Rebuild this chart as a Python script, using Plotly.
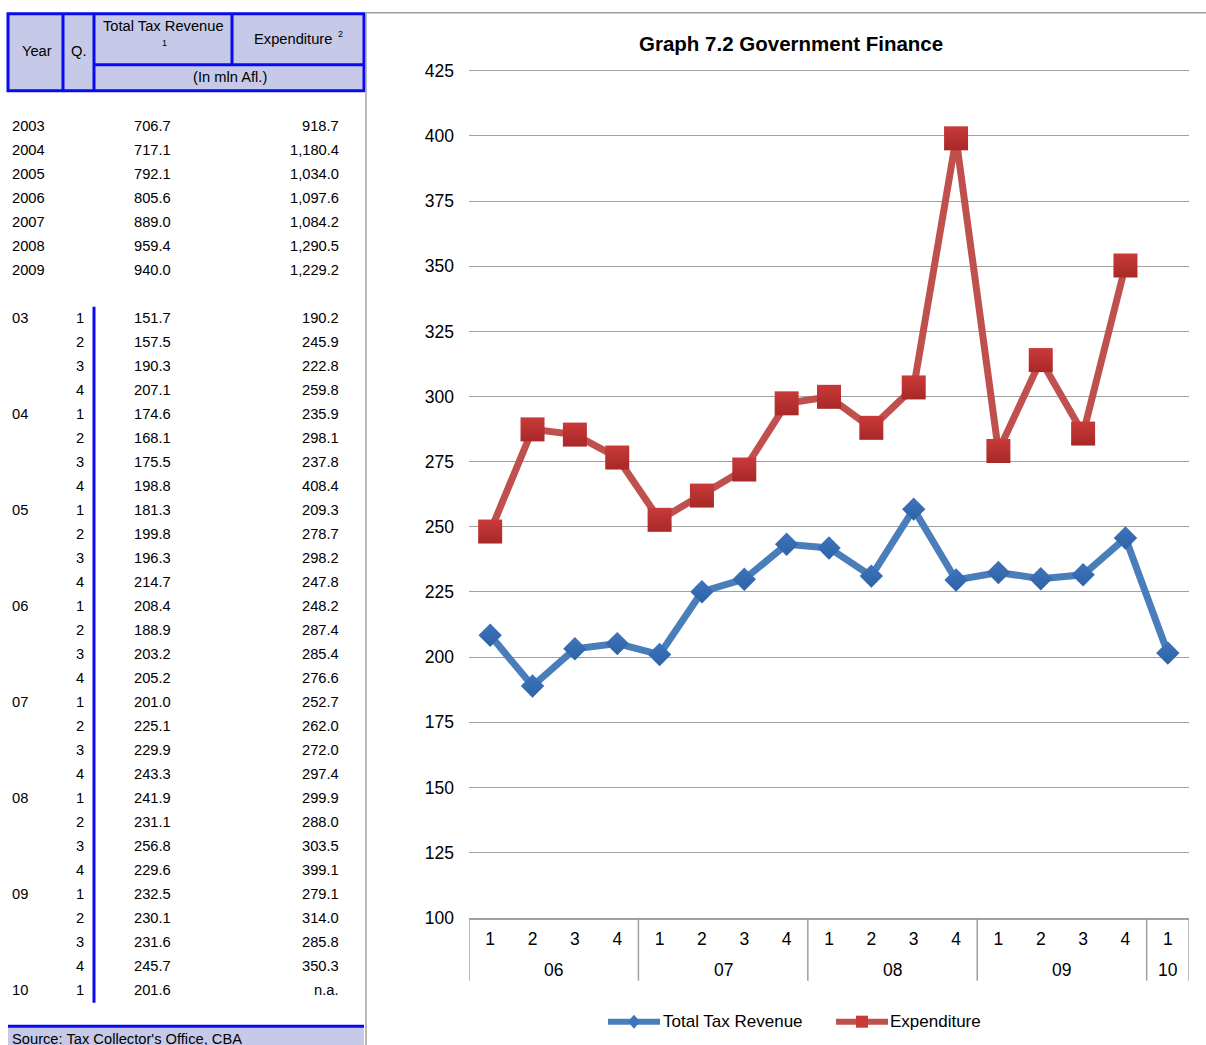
import plotly.graph_objects as go

# ---- data -------------------------------------------------------------
annual_years = ["2003", "2004", "2005", "2006", "2007", "2008", "2009"]
annual_tax = [706.7, 717.1, 792.1, 805.6, 889.0, 959.4, 940.0]
annual_exp = [918.7, 1180.4, 1034.0, 1097.6, 1084.2, 1290.5, 1229.2]

q_year_labels = ["03", "04", "05", "06", "07", "08", "09", "10"]
q_quarters = [1, 2, 3, 4, 1, 2, 3, 4, 1, 2, 3, 4, 1, 2, 3, 4, 1, 2, 3, 4,
              1, 2, 3, 4, 1, 2, 3, 4, 1]
q_tax = [151.7, 157.5, 190.3, 207.1, 174.6, 168.1, 175.5, 198.8, 181.3, 199.8,
         196.3, 214.7, 208.4, 188.9, 203.2, 205.2, 201.0, 225.1, 229.9, 243.3,
         241.9, 231.1, 256.8, 229.6, 232.5, 230.1, 231.6, 245.7, 201.6]
q_exp = [190.2, 245.9, 222.8, 259.8, 235.9, 298.1, 237.8, 408.4, 209.3, 278.7,
         298.2, 247.8, 248.2, 287.4, 285.4, 276.6, 252.7, 262.0, 272.0, 297.4,
         299.9, 288.0, 303.5, 399.1, 279.1, 314.0, 285.8, 350.3, None]

chart_start = 12  # the graph covers 2006 Q1 onwards
chart_tax = q_tax[chart_start:]
chart_exp = q_exp[chart_start:]
chart_quarters = [str(q) for q in q_quarters[chart_start:]]
chart_years = ["06", "07", "08", "09", "10"]

series_names = ["Total Tax Revenue", "Expenditure"]
y_ticks = list(range(100, 426, 25))

# ---- page geometry helpers (layout row -> paper) ----------------------
W = 1206
H = 1064            # figure height
ROW_OFF = 8.15      # layout rows are given in a 1045-row frame
ROW_SCALE = 0.9823


def fx(x):
    return x / W


def fy(y):
    fig_row = (y - ROW_OFF) / ROW_SCALE
    return min(1.0, max(0.0, 1 - fig_row / H))


FONT = "Liberation Sans, Arial, sans-serif"
TBL = 14.7          # table text size
BLUE_RULE = "#0A0AF0"
LAVENDER = "#C6C9E8"
GREY = "#A0A0A0"
TAX_LINE, TAX_MARK = "#4A7EBB", "#3D74BC"
EXP_LINE, EXP_MARK = "#C0504D", "#C83A38"

shapes = []
annotations = []


def line(x0, y0, x1, y1, color, width):
    shapes.append(dict(type="line", xref="paper", yref="paper",
                       x0=fx(x0), y0=fy(y0), x1=fx(x1), y1=fy(y1),
                       line=dict(color=color, width=width)))


def text(x, y, s, anchor="left", size=TBL, bold=False, color="black"):
    annotations.append(dict(xref="paper", yref="paper", x=fx(x), y=fy(y),
                            text=f"<b>{s}</b>" if bold else s,
                            xanchor=anchor, yanchor="middle", showarrow=False,
                            font=dict(family=FONT, size=size, color=color),
                            borderpad=0))


# ---- table header -----------------------------------------------------
shapes.append(dict(type="rect", xref="paper", yref="paper",
                   x0=fx(8), y0=fy(13), x1=fx(364), y1=fy(90),
                   fillcolor=LAVENDER, line=dict(color=BLUE_RULE, width=3)))
line(63, 13, 63, 90, BLUE_RULE, 3)
line(94, 13, 94, 90, BLUE_RULE, 3)
line(232, 13, 232, 64, BLUE_RULE, 3)
line(94, 64, 364, 64, BLUE_RULE, 3)

text(37, 50, "Year", "center")
text(79, 50, "Q.", "center")
text(163, 25, "Total Tax Revenue", "center")
text(164, 42, "1", "center", size=9)
text(293, 38, "Expenditure", "center")
text(340, 33, "2", "center", size=9)
text(230, 76, "(In mln Afl.)", "center")

# page dividers
line(366, 12, 366, 1045, GREY, 1.5)
line(366, 12, 1206, 12, GREY, 1.5)


def fmt(v):
    return "n.a." if v is None else f"{v:,.1f}"


# annual rows
for i, yr in enumerate(annual_years):
    y = 125 + 24 * i
    text(11, y, yr)
    text(172, y, fmt(annual_tax[i]), "right")
    text(340, y, fmt(annual_exp[i]), "right")

# quarterly rows
year_idx = 0
for i, q in enumerate(q_quarters):
    y = 317 + 24 * i
    if q == 1:
        text(11, y, q_year_labels[year_idx])
        year_idx += 1
    text(85, y, str(q), "right")
    text(172, y, fmt(q_tax[i]), "right")
    text(340, y, fmt(q_exp[i]), "right")

line(94, 306, 94, 1002, BLUE_RULE, 3)

# source bar
shapes.append(dict(type="rect", xref="paper", yref="paper",
                   x0=fx(8), y0=fy(1026), x1=fx(364), y1=0,
                   fillcolor=LAVENDER, line=dict(width=0)))
line(8, 1025.5, 364, 1025.5, BLUE_RULE, 3)
text(11, 1038, "Source: Tax Collector's Office, CBA")

# ---- chart ------------------------------------------------------------
x_idx = list(range(len(chart_tax)))

fig = go.Figure()
fig.add_trace(go.Scatter(
    x=x_idx, y=chart_tax, name=series_names[0], mode="lines+markers",
    line=dict(color=TAX_LINE, width=7),
    marker=dict(symbol="diamond", size=18, color=TAX_MARK,
                gradient=dict(type="vertical", color="#2F62A6"),
                line=dict(width=0)),
    cliponaxis=False, showlegend=False))
fig.add_trace(go.Scatter(
    x=x_idx, y=chart_exp, name=series_names[1], mode="lines+markers",
    line=dict(color=EXP_LINE, width=7),
    marker=dict(symbol="square", size=24, color=EXP_MARK,
                gradient=dict(type="vertical", color="#A82828"),
                line=dict(width=0)),
    cliponaxis=False, showlegend=False))

plot_x0, plot_x1 = 469, 1189
y_top_px, plot_bottom = 70, 917           # rows of 425 and 100
y_lo, y_hi = 100, 425.5                   # headroom keeps the 425 gridline
px_per_unit = (plot_bottom - y_top_px) / (425 - y_lo)
plot_top = y_top_px - (y_hi - 425) * px_per_unit

# category group dividers below the axis
n = len(chart_quarters)
group_bounds = [-0.5] + [i - 0.5 for i in range(1, n) if chart_quarters[i] == "1"] + [n - 0.5]
for b in group_bounds:
    shapes.append(dict(type="line", xref="x", yref="paper",
                       x0=b, x1=b, y0=fy(plot_bottom), y1=fy(980),
                       line=dict(color=GREY, width=1.5)))
for j, yr in enumerate(chart_years):
    centre = (group_bounds[j] + group_bounds[j + 1]) / 2
    annotations.append(dict(xref="x", yref="paper", x=centre, y=fy(969),
                            text=yr, showarrow=False, xanchor="center",
                            yanchor="middle",
                            font=dict(family=FONT, size=17.5, color="black")))

# legend: thick line sample with a small marker in its middle
legend_y = 1021
for (lx0, lx1, tx), name, lc, mc, sym in [
        ((608, 660, 662), series_names[0], TAX_LINE, TAX_MARK, "diamond"),
        ((836, 888, 889), series_names[1], EXP_LINE, EXP_MARK, "square")]:
    line(lx0, legend_y, lx1, legend_y, lc, 6)
    cx = (lx0 + lx1) / 2
    if sym == "diamond":
        path = (f"M {fx(cx)} {fy(legend_y - 7)} L {fx(cx + 6)} {fy(legend_y)} "
                f"L {fx(cx)} {fy(legend_y + 7)} L {fx(cx - 6)} {fy(legend_y)} Z")
        shapes.append(dict(type="path", xref="paper", yref="paper", path=path,
                           fillcolor=mc, line=dict(width=0)))
    else:
        shapes.append(dict(type="rect", xref="paper", yref="paper",
                           x0=fx(cx - 6), x1=fx(cx + 6),
                           y0=fy(legend_y - 6), y1=fy(legend_y + 6),
                           fillcolor=mc, line=dict(width=0)))
    text(tx, legend_y, name, "left", size=17)

# title
text(791, 43, "Graph 7.2 Government Finance", "center", size=20.5, bold=True)

fig.update_layout(
    width=W, height=H,
    margin=dict(l=0, r=0, t=0, b=0),
    paper_bgcolor="white", plot_bgcolor="white",
    font=dict(family=FONT, size=17, color="black"),
    shapes=shapes, annotations=annotations,
    showlegend=False,
    xaxis=dict(domain=[fx(plot_x0), fx(plot_x1)], range=[-0.5, n - 0.5],
               tickmode="array", tickvals=x_idx, ticktext=chart_quarters,
               showgrid=False, zeroline=False, showline=True,
               linecolor=GREY, linewidth=1.5, ticks="",
               ticklabelstandoff=5,
               tickfont=dict(family=FONT, size=17.5, color="black")),
    yaxis=dict(domain=[fy(plot_bottom), fy(plot_top)], range=[y_lo, y_hi],
               tickmode="array", tickvals=y_ticks,
               showgrid=True, gridcolor=GREY, gridwidth=1.3,
               zeroline=False, showline=False, ticks="",
               ticklabelstandoff=14,
               tickfont=dict(family=FONT, size=17.5, color="black")),
)

fig.write_html("out.html")
